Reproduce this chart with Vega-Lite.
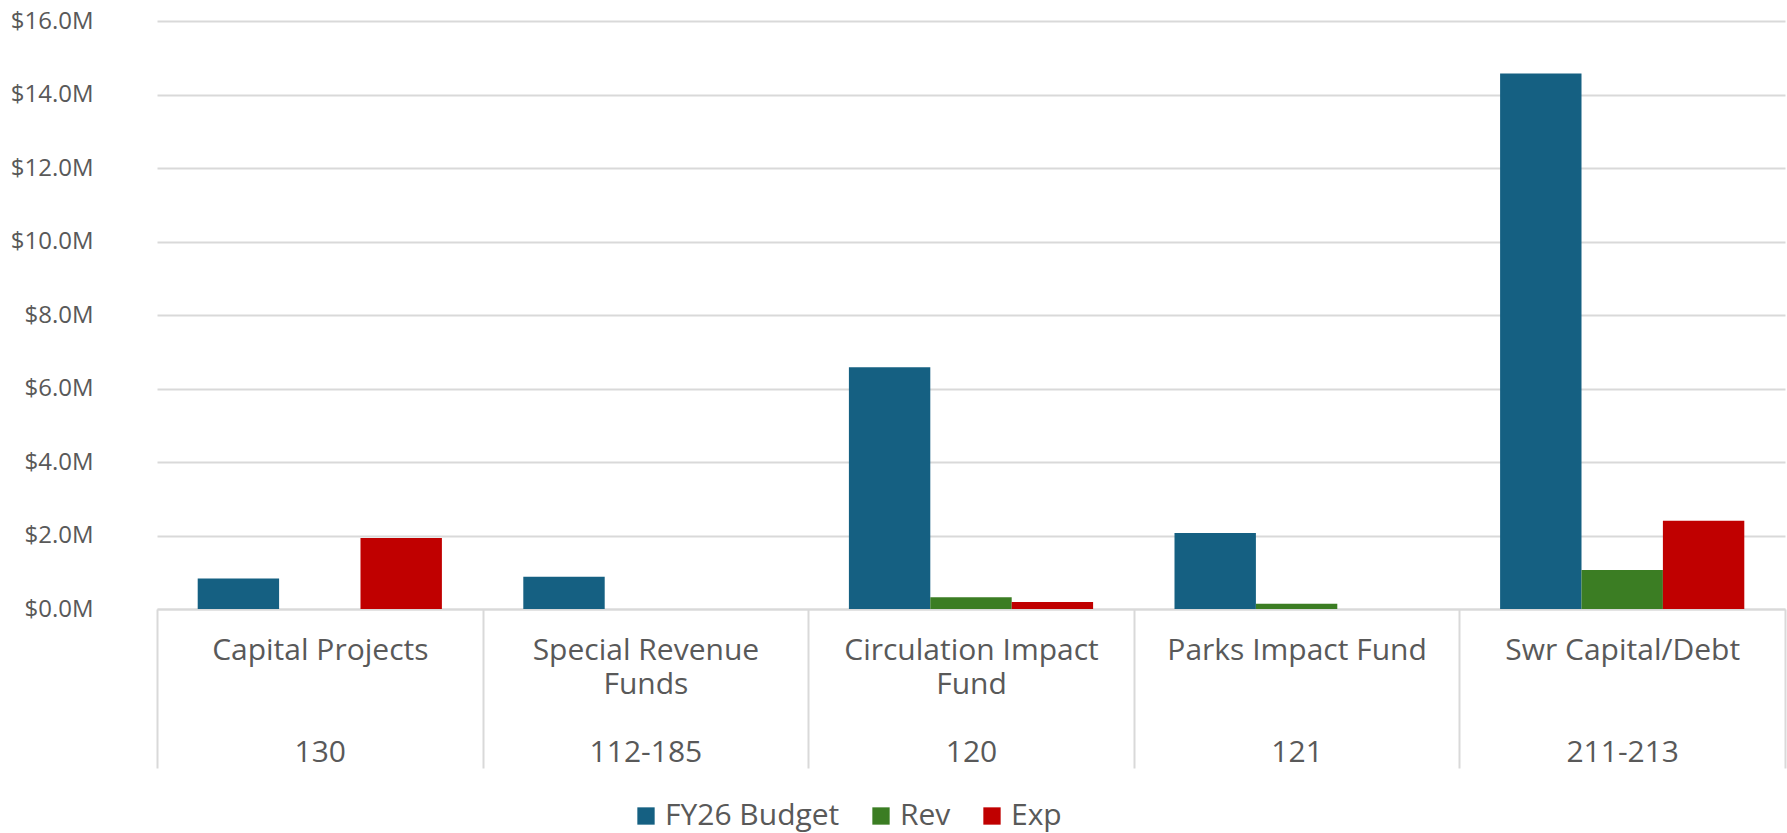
{
  "$schema": "https://vega.github.io/schema/vega-lite/v6.json",
  "width": 1628,
  "height": 588,
  "autosize": {"type": "none"},
  "padding": {"left": 157, "top": 21, "right": 2, "bottom": 224},
  "background": "white",
  "data": {
    "values": [
      {"category": "Capital Projects", "fund": "130", "series": "FY26 Budget", "value": 830000},
      {"category": "Capital Projects", "fund": "130", "series": "Rev", "value": 0},
      {"category": "Capital Projects", "fund": "130", "series": "Exp", "value": 1930000},
      {"category": "Special Revenue Funds", "fund": "112-185", "series": "FY26 Budget", "value": 880000},
      {"category": "Special Revenue Funds", "fund": "112-185", "series": "Rev", "value": 0},
      {"category": "Special Revenue Funds", "fund": "112-185", "series": "Exp", "value": 0},
      {"category": "Circulation Impact Fund", "fund": "120", "series": "FY26 Budget", "value": 6580000},
      {"category": "Circulation Impact Fund", "fund": "120", "series": "Rev", "value": 320000},
      {"category": "Circulation Impact Fund", "fund": "120", "series": "Exp", "value": 190000},
      {"category": "Parks Impact Fund", "fund": "121", "series": "FY26 Budget", "value": 2070000},
      {"category": "Parks Impact Fund", "fund": "121", "series": "Rev", "value": 140000},
      {"category": "Parks Impact Fund", "fund": "121", "series": "Exp", "value": 0},
      {"category": "Swr Capital/Debt", "fund": "211-213", "series": "FY26 Budget", "value": 14570000},
      {"category": "Swr Capital/Debt", "fund": "211-213", "series": "Rev", "value": 1060000},
      {"category": "Swr Capital/Debt", "fund": "211-213", "series": "Exp", "value": 2400000}
    ]
  },
  "mark": {"type": "bar"},
  "encoding": {
    "x": {
      "field": "fund",
      "type": "nominal",
      "sort": ["130", "112-185", "120", "121", "211-213"],
      "scale": {"paddingInner": 0, "paddingOuter": 0},
      "axis": {
        "title": null,
        "labelAngle": 0,
        "domainColor": "#d9d9d9",
        "domainWidth": 2,
        "tickColor": "#d9d9d9",
        "tickWidth": 2,
        "tickSize": 159,
        "tickBand": "extent",
        "labelExpr": "{'130': ['Capital Projects', '\u200b', '\u200b', '130'], '112-185': ['Special Revenue', 'Funds', '\u200b', '112-185'], '120': ['Circulation Impact', 'Fund', '\u200b', '120'], '121': ['Parks Impact Fund', '\u200b', '\u200b', '121'], '211-213': ['Swr Capital/Debt', '\u200b', '\u200b', '211-213']}[datum.value]",
        "labelBaseline": "top",
        "labelLineHeight": 34,
        "labelPadding": -133,
        "labelFontSize": 30,
        "labelFont": "Open Sans",
        "labelColor": "#595959",
        "labelOverlap": false,
        "labelLimit": 0
      }
    },
    "xOffset": {
      "field": "series",
      "type": "nominal",
      "sort": ["FY26 Budget", "Rev", "Exp"],
      "scale": {"paddingInner": 0, "paddingOuter": 0.5}
    },
    "y": {
      "field": "value",
      "type": "quantitative",
      "scale": {"domain": [0, 16000000], "nice": false},
      "axis": {
        "title": null,
        "values": [0, 2000000, 4000000, 6000000, 8000000, 10000000, 12000000, 14000000, 16000000],
        "labelExpr": "'$' + format(datum.value / 1000000, '.1f') + 'M'",
        "domain": false,
        "ticks": false,
        "tickSize": 0,
        "labelPadding": 64,
        "gridColor": "#d9d9d9",
        "gridWidth": 2,
        "labelFontSize": 24,
        "labelFont": "Open Sans",
        "labelColor": "#595959"
      }
    },
    "color": {
      "field": "series",
      "type": "nominal",
      "scale": {"domain": ["FY26 Budget", "Rev", "Exp"], "range": ["#156082", "#3b7d23", "#c00000"]},
      "legend": {
        "title": null,
        "orient": "none",
        "legendX": 474,
        "legendY": 780,
        "direction": "horizontal",
        "symbolType": "square",
        "symbolSize": 300,
        "symbolStrokeWidth": 0,
        "labelFontSize": 30,
        "labelFont": "Open Sans",
        "labelColor": "#595959",
        "labelLimit": 0,
        "columnPadding": 26,
        "labelOffset": 4
      }
    }
  },
  "config": {"view": {"stroke": null}}
}
